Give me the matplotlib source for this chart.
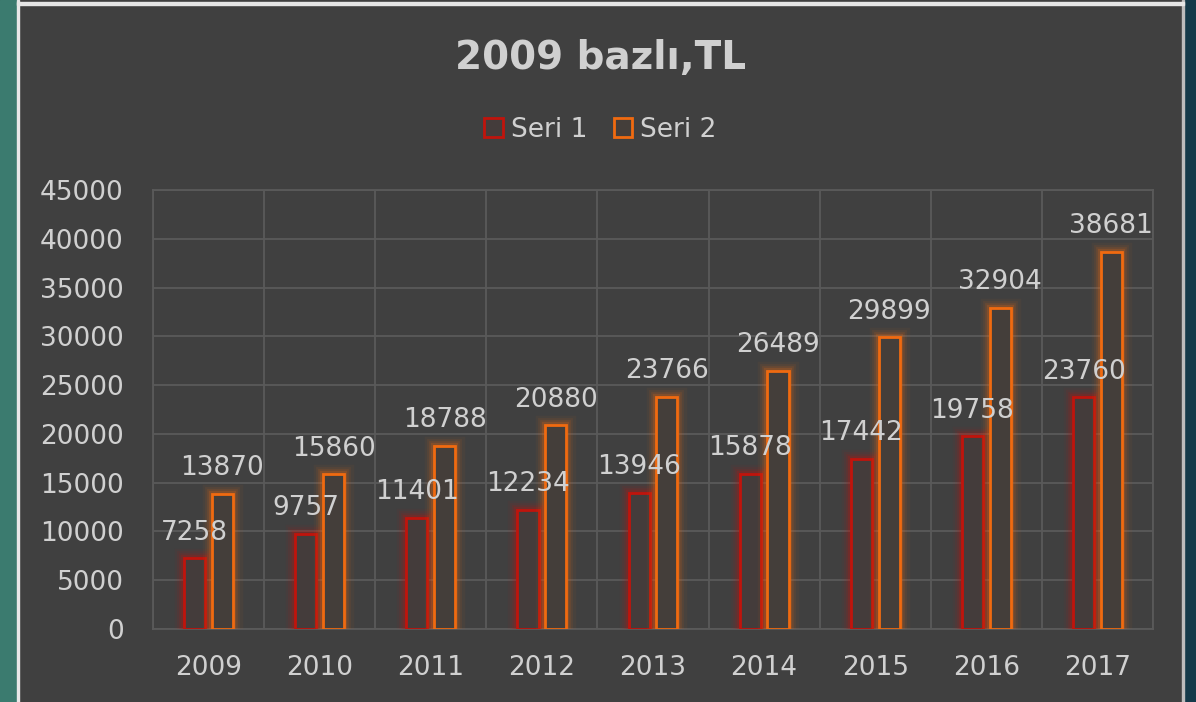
import numpy as np
import matplotlib.pyplot as plt
from matplotlib import patheffects as pe
from matplotlib.patches import Rectangle

years = ["2009", "2010", "2011", "2012", "2013", "2014", "2015", "2016", "2017"]
seri1 = [7258, 9757, 11401, 12234, 13946, 15878, 17442, 19758, 23760]
seri2 = [13870, 15860, 18788, 20880, 23766, 26489, 29899, 32904, 38681]

bg = "#404040"
grid = "#5a5a5a"
txt = "#d0d0d0"
red = "#c0140c"
orange = "#f06a10"

fig = plt.figure(figsize=(11.96, 7.02), dpi=100, facecolor=bg)

# side strips / frame of the slide
fig.patches.append(Rectangle((0, 0), 17 / 1196, 1, transform=fig.transFigure, color="#3b7b6f", zorder=0))
fig.patches.append(Rectangle((1184 / 1196, 0), 12 / 1196, 1, transform=fig.transFigure, color="#153a4a", zorder=0))
fig.patches.append(Rectangle((17 / 1196, 0), 2 / 1196, 1, transform=fig.transFigure, color="#e8e8e8", zorder=0))
fig.patches.append(Rectangle((1182 / 1196, 0), 2 / 1196, 1, transform=fig.transFigure, color="#bdbdbd", zorder=0))
fig.patches.append(Rectangle((17 / 1196, 697 / 702), 1167 / 1196, 3 / 702, transform=fig.transFigure, color="#e6e6e6", zorder=0))

ax = fig.add_axes([153 / 1196, 73 / 702, 1000 / 1196, 439 / 702])
ax.set_facecolor(bg)

x = np.arange(len(years))
w = 0.19
off = 0.125


def glow(c):
    return [pe.Stroke(linewidth=14, foreground=c, alpha=0.05),
            pe.Stroke(linewidth=10, foreground=c, alpha=0.08),
            pe.Stroke(linewidth=7, foreground=c, alpha=0.12),
            pe.Stroke(linewidth=4.5, foreground=c, alpha=0.2),
            pe.Normal()]


b1 = ax.bar(x - off, seri1, w, facecolor="#443c3b", edgecolor=red, linewidth=2, label="Seri 1", zorder=3)
b2 = ax.bar(x + off, seri2, w, facecolor="#443e3a", edgecolor=orange, linewidth=2, label="Seri 2", zorder=3)
for b in b1:
    b.set_path_effects(glow(red))
for b in b2:
    b.set_path_effects(glow(orange))

for xi, v in zip(x - off, seri1):
    ax.text(xi, v + 1300, str(v), ha="center", va="bottom", color=txt, fontsize=19, zorder=5)
for xi, v in zip(x + off, seri2):
    ax.text(xi, v + 1300, str(v), ha="center", va="bottom", color=txt, fontsize=19, zorder=5)

ax.set_xlim(-0.5, len(years) - 0.5)
ax.set_ylim(0, 45000)
ax.set_yticks(np.arange(0, 45001, 5000))
ax.set_xticks(x)
ax.set_xticklabels(years)
ax.set_xticks(np.arange(-0.5, len(years), 1), minor=True)
ax.grid(True, axis="y", color=grid, linewidth=1.3, zorder=0)
ax.grid(True, axis="x", which="minor", color=grid, linewidth=1.3, zorder=0)
ax.tick_params(axis="both", which="both", length=0, colors=txt, labelsize=19)
ax.tick_params(axis="y", pad=21)
ax.tick_params(axis="x", pad=19)
for s in ax.spines.values():
    s.set_color(grid)
    s.set_linewidth(1.3)

fig.text(0.502, 0.917, "2009 bazlı,TL", ha="center", va="center", color=txt, fontsize=28, fontweight="bold")

leg = fig.legend(handles=[b1, b2], labels=["Seri 1", "Seri 2"], loc="center", bbox_to_anchor=(0.502, 0.815),
                 ncol=2, frameon=False, fontsize=19, handlelength=0.7, handleheight=0.7,
                 handletextpad=0.3, columnspacing=1.0)
for t in leg.get_texts():
    t.set_color(txt)
for h in leg.legend_handles:
    h.set_path_effects([])

fig.savefig("out.png", dpi=100, facecolor=bg)
